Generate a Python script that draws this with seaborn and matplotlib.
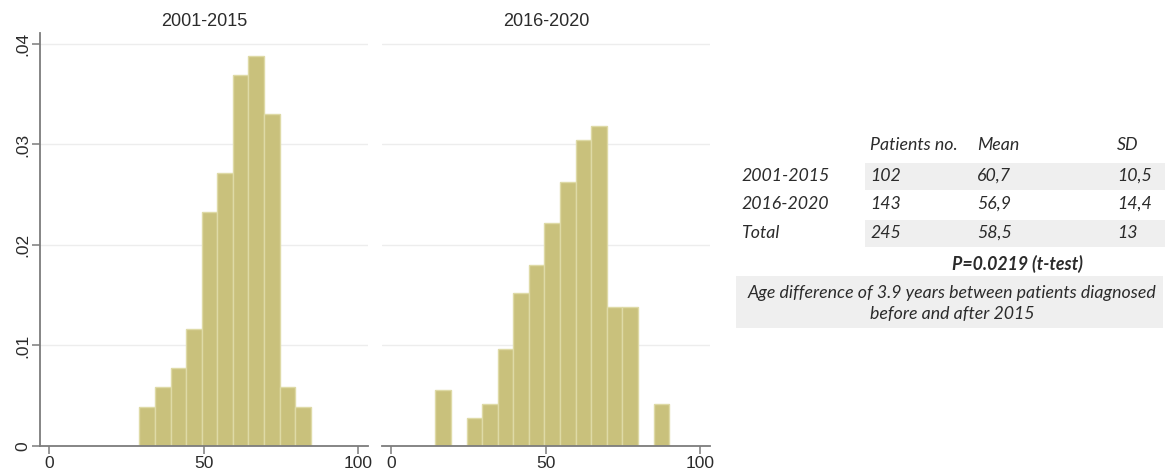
import numpy as np
import pandas as pd
import matplotlib
matplotlib.use("Agg")
import matplotlib.pyplot as plt
from matplotlib.patches import Rectangle
import seaborn as sns

# Age at diagnosis: patient counts per bin (bins of equal width)
bin_width = 5.05
early_start = 29.2
early_counts = [2, 3, 4, 6, 12, 14, 19, 20, 17, 3, 2]
late_start = 14.3
late_counts = [4, 0, 2, 3, 7, 11, 13, 16, 19, 22, 23, 10, 10, 0, 3]

panel_titles = ["2001-2015", "2016-2020"]
x_ticks = [0, 50, 100]
y_ticks = [0, 0.01, 0.02, 0.03, 0.04]
y_tick_labels = ["0", ".01", ".02", ".03", ".04"]

# Summary table
table_header = ["Patients no.", "Mean", "SD"]
row_labels = ["2001-2015", "2016-2020", "Total"]
patients = ["102", "143", "245"]
means = ["60,7", "56,9", "58,5"]
sds = ["10,5", "14,4", "13"]
p_value_text = "P=0.0219 (t-test)"
note_lines = ["Age difference of 3.9 years between patients diagnosed",
              "before and after 2015"]

BAR = "#c9c17c"
BAR_EDGE = "#dedaa6"
AXIS = "#7c7c7c"
TEXT = "#2b2b2b"
SHADE = "#efefef"

sns.set_theme(style="white")
plt.rcParams["font.family"] = ["Liberation Sans", "DejaVu Sans"]

W, H = 1165, 473
fig = plt.figure(figsize=(W / 100, H / 100), dpi=100)


def px_axes(x0, x1, ytop, ybot):
    return fig.add_axes([x0 / W, 1 - ybot / H, (x1 - x0) / W, (ybot - ytop) / H])


def fx(x):
    return x / W


def fy(y):
    return 1 - y / H


ax_early = px_axes(40, 368, 33, 446)
ax_late = px_axes(382, 710, 33, 446)

panels = [
    (ax_early, early_start, early_counts, panel_titles[0], True),
    (ax_late, late_start, late_counts, panel_titles[1], False),
]

for ax, start, counts, title, show_y in panels:
    edges = [start + bin_width * i for i in range(len(counts) + 1)]
    mids = [(a + b) / 2 for a, b in zip(edges[:-1], edges[1:])]
    df = pd.DataFrame({"age": mids, "n": counts})
    sns.histplot(data=df, x="age", weights="n", bins=edges, stat="density",
                 color=BAR, edgecolor=BAR_EDGE, linewidth=1.0, alpha=1.0, ax=ax)
    ax.set_xlim(-3, 103.3)
    ax.set_ylim(0, 0.04109)
    ax.set_xlabel("")
    ax.set_ylabel("")
    ax.set_axisbelow(True)
    ax.set_yticks(y_ticks)
    ax.yaxis.grid(True, color="#ededed", linewidth=1.0)
    ax.xaxis.grid(False)
    ax.set_xticks(x_ticks)
    ax.set_xticklabels([str(t) for t in x_ticks])
    ax.tick_params(axis="x", direction="out", length=6, width=1.1, color=AXIS,
                   labelsize=12.5, labelcolor=TEXT, pad=1, bottom=True)
    for side in ["top", "right"]:
        ax.spines[side].set_visible(False)
    ax.spines["bottom"].set_color(AXIS)
    ax.spines["bottom"].set_linewidth(1.3)
    if show_y:
        ax.set_yticklabels(y_tick_labels, rotation=90, va="center")
        ax.tick_params(axis="y", direction="out", length=6, width=1.1, color=AXIS,
                       labelsize=12.5, labelcolor=TEXT, pad=1, left=True)
        ax.spines["left"].set_color(AXIS)
        ax.spines["left"].set_linewidth(1.3)
    else:
        ax.spines["left"].set_visible(False)
        ax.tick_params(axis="y", left=False, labelleft=False)
    ax.set_title(title, fontsize=13, color=TEXT, pad=5)

# ---- summary table on the right ----
tfont = dict(family=["Lato", "DejaVu Sans"], style="italic", color=TEXT, fontsize=12.8)

# shaded rows
for y0, y1 in [(163, 190), (220, 247)]:
    fig.patches.append(Rectangle((fx(865), fy(y1)), fx(1165) - fx(865), fy(y0) - fy(y1),
                                 transform=fig.transFigure, facecolor=SHADE,
                                 edgecolor="none", zorder=0))
# note box
fig.patches.append(Rectangle((fx(736), fy(328)), fx(1163) - fx(736), fy(276) - fy(328),
                             transform=fig.transFigure, facecolor=SHADE,
                             edgecolor="none", zorder=0))

col_x = [870, 977, 1117]
header_y = 145
row_y = [176, 204, 233]

for cx, h in zip(col_x, table_header):
    fig.text(fx(cx), fy(header_y), h, ha="left", va="center", **tfont)
for ry, lab, a, b, c in zip(row_y, row_labels, patients, means, sds):
    fig.text(fx(741), fy(ry), lab, ha="left", va="center", **tfont)
    for cx, val in zip(col_x, [a, b, c]):
        fig.text(fx(cx), fy(ry), val, ha="left", va="center", **tfont)

fig.text(fx(1017), fy(264), p_value_text, ha="center", va="center",
         fontweight="bold", **tfont)
fig.text(fx(952), fy(293), note_lines[0], ha="center", va="center", **tfont)
fig.text(fx(952), fy(314), note_lines[1], ha="center", va="center", **tfont)

fig.savefig("out.png", dpi=100)
